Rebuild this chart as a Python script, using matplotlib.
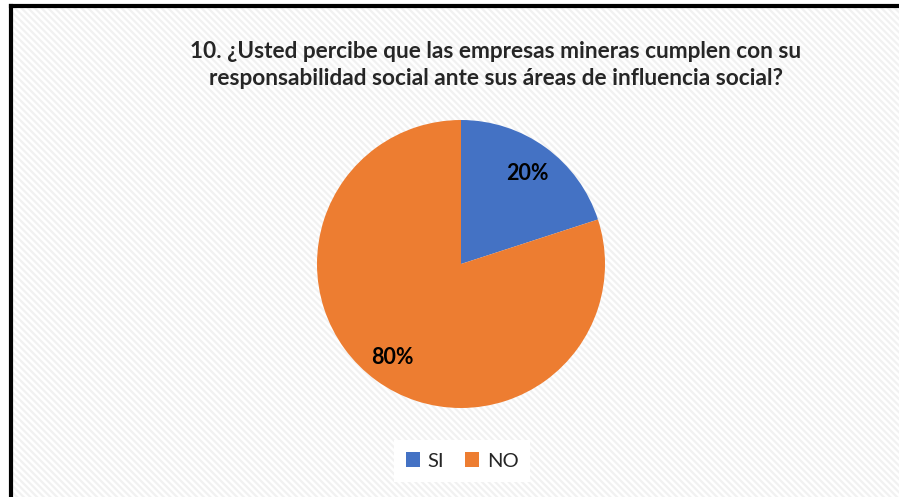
import matplotlib.pyplot as plt
from matplotlib.patches import Rectangle

labels = ["SI", "NO"]
values = [20, 80]
colors = ["#4472C4", "#ED7D31"]
title = ("10. ¿Usted percibe que las empresas mineras cumplen con su\n"
         "responsabilidad social ante sus áreas de influencia social?")

plt.rcParams['font.family'] = ['Lato', 'DejaVu Sans']
plt.rcParams['hatch.color'] = '#f1f1f1'
plt.rcParams['hatch.linewidth'] = 1.6

W, H = 899, 497
fig = plt.figure(figsize=(W / 100, H / 100), dpi=100)

# chart area background with faint diagonal stripes and border on top/left
bg = Rectangle((11 / W, 0), 1, 1 - 6 / H, transform=fig.transFigure,
               facecolor='white', edgecolor='#f1f1f1', hatch='\\\\\\\\\\',
               linewidth=0, zorder=-5)
fig.patches.append(bg)
fig.add_artist(plt.Line2D([11 / W, 11 / W], [0, 1 - 6 / H], color='black', lw=3,
                          transform=fig.transFigure))
fig.add_artist(plt.Line2D([11 / W, 1], [1 - 6 / H, 1 - 6 / H], color='black', lw=3,
                          transform=fig.transFigure))

fig.text(496 / W, 1 - 65 / H, title, ha='center', va='center', fontsize=16.3,
         fontweight='bold', color='#262626', linespacing=1.4)

cx, cy, r = 461, H - 264, 144
ax = fig.add_axes([(cx - r) / W, (cy - r) / H, 2 * r / W, 2 * r / H], zorder=5)
wedges, _ = ax.pie(values, colors=colors, startangle=90, counterclock=False,
                   radius=1, wedgeprops=dict(linewidth=0))
ax.text(0.46, 0.63, f"{values[0]}%", ha='center', va='center', fontsize=15.5,
        fontweight='bold', color='black')
ax.text(-0.48, -0.65, f"{values[1]}%", ha='center', va='center', fontsize=15.5,
        fontweight='bold', color='black')
ax.set_xlim(-1, 1)
ax.set_ylim(-1, 1)
ax.set_aspect('equal')
ax.axis('off')

leg = fig.legend(wedges, labels, loc='center', bbox_to_anchor=(462 / W, 1 - 461 / H),
                 ncol=2, frameon=True, fontsize=14.5, handlelength=0.7,
                 handleheight=0.7, handletextpad=0.4, columnspacing=1.0,
                 borderpad=0.6)
leg.get_frame().set_facecolor('white')
leg.get_frame().set_edgecolor('none')
leg.get_frame().set_alpha(1)
leg.get_frame().set_boxstyle('square', pad=0)
for t in leg.get_texts():
    t.set_color('#262626')

fig.savefig("out.png", dpi=100, facecolor='white')
